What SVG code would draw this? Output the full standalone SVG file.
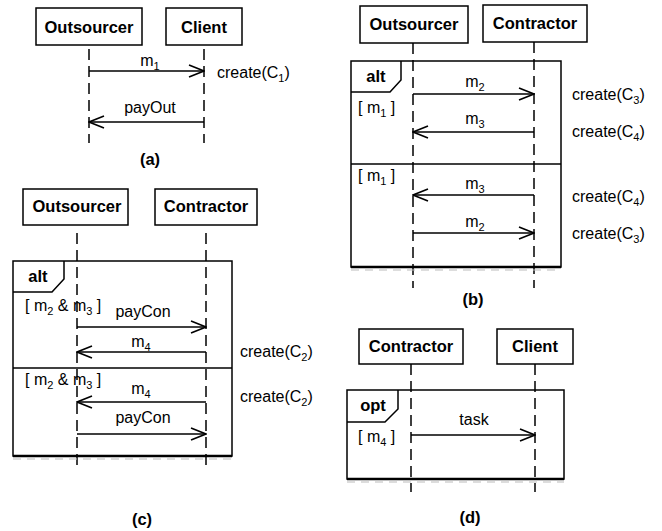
<svg xmlns="http://www.w3.org/2000/svg" width="662" height="531" viewBox="0 0 662 531">
<style>
.box{fill:#fff;stroke:#000;stroke-width:1.5}
.life{stroke:#000;stroke-width:1.5;stroke-dasharray:11 6;fill:none}
.frame{fill:none;stroke:#000;stroke-width:1.5}
.fbot{stroke:#000;stroke-width:2.5}
.fgh{stroke:#bbb;stroke-width:1;stroke-dasharray:8 6}
.msg{stroke:#000;stroke-width:1.5;fill:none;marker-end:url(#open)}
text{font-family:"Liberation Sans",Arial,sans-serif;font-size:16px;fill:#000}
.b{font-weight:bold;font-size:16.5px}
.m{text-anchor:middle}
.s{font-size:11px}
</style>
<defs>
<marker id="open" viewBox="0 0 17 15" refX="16" refY="7.5" markerWidth="17" markerHeight="15" markerUnits="userSpaceOnUse" orient="auto"><path d="M1,1.5 L16,7.5 L1,13.5" fill="none" stroke="#000" stroke-width="1.6"/></marker>
</defs>

<!-- Panel (a) -->
<g id="a-outsourcer"><rect class="box" x="36" y="8" width="106" height="37"/><text class="b m" x="89" y="33">Outsourcer</text></g>
<g id="a-client"><rect class="box" x="166" y="8" width="76" height="37"/><text class="b m" x="204" y="33">Client</text></g>
<g id="a-lifelines"><line class="life" x1="89" y1="49" x2="89" y2="143"/><line class="life" x1="204" y1="49" x2="204" y2="143"/></g>
<g id="a-notes"><text x="217" y="78">create(C<tspan class="s" dy="4">1</tspan><tspan dy="-4">)</tspan></text><text class="b m" x="150" y="165">(a)</text></g>

<!-- Panel (b) -->
<g id="b-outsourcer"><rect class="box" x="360" y="6" width="108" height="37"/><text class="b m" x="414" y="30">Outsourcer</text></g>
<g id="b-contractor"><rect class="box" x="483" y="5" width="104" height="37"/><text class="b m" x="535" y="29">Contractor</text></g>
<g id="b-lifelines"><line class="life" x1="413" y1="43" x2="413" y2="288"/><line class="life" x1="534" y1="42" x2="534" y2="288"/></g>
<g id="b-alt">
<rect class="frame" x="351" y="61" width="210" height="206"/>
<path class="frame" d="M351,92 H390 L401,80 V61"/>
<line class="frame" x1="351" y1="164" x2="561" y2="164"/>
<line class="fbot" x1="351" y1="267" x2="561" y2="267"/>
<line class="fgh" x1="351" y1="270" x2="561" y2="270"/>
<text class="b m" x="376" y="82">alt</text>
<text x="358" y="113">[ m<tspan class="s" dy="4">1</tspan><tspan dy="-4"> ]</tspan></text>
<text x="358" y="181">[ m<tspan class="s" dy="4">1</tspan><tspan dy="-4"> ]</tspan></text>
</g>
<g id="b-notes">
<text x="572" y="100">create(C<tspan class="s" dy="4">3</tspan><tspan dy="-4">)</tspan></text>
<text x="572" y="137">create(C<tspan class="s" dy="4">4</tspan><tspan dy="-4">)</tspan></text>
<text x="572" y="202">create(C<tspan class="s" dy="4">4</tspan><tspan dy="-4">)</tspan></text>
<text x="572" y="239">create(C<tspan class="s" dy="4">3</tspan><tspan dy="-4">)</tspan></text>
<text class="b m" x="473" y="305">(b)</text>
</g>

<!-- Panel (c) -->
<g id="c-outsourcer"><rect class="box" x="23" y="189" width="105" height="36"/><text class="b m" x="77" y="212">Outsourcer</text></g>
<g id="c-contractor"><rect class="box" x="155" y="189" width="102" height="36"/><text class="b m" x="206" y="212">Contractor</text></g>
<g id="c-lifelines"><line class="life" x1="77" y1="233" x2="77" y2="469"/><line class="life" x1="206" y1="233" x2="206" y2="469"/></g>
<g id="c-alt">
<rect class="frame" x="13" y="261" width="219" height="195"/>
<path class="frame" d="M13,292 H52 L64,279 V261"/>
<line class="frame" x1="13" y1="368" x2="232" y2="368"/>
<line class="fbot" x1="13" y1="456" x2="232" y2="456"/>
<line class="fgh" x1="13" y1="459" x2="232" y2="459"/>
<text class="b m" x="38" y="282">alt</text>
<text x="25" y="311">[ m<tspan class="s" dy="4">2</tspan><tspan dy="-4"> &amp; m</tspan><tspan class="s" dy="4">3</tspan><tspan dy="-4"> ]</tspan></text>
<text x="25" y="385">[ m<tspan class="s" dy="4">2</tspan><tspan dy="-4"> &amp; m</tspan><tspan class="s" dy="4">3</tspan><tspan dy="-4"> ]</tspan></text>
</g>
<g id="c-notes">
<text x="240" y="357">create(C<tspan class="s" dy="4">2</tspan><tspan dy="-4">)</tspan></text>
<text x="240" y="402">create(C<tspan class="s" dy="4">2</tspan><tspan dy="-4">)</tspan></text>
<text class="b m" x="142" y="525">(c)</text>
</g>

<!-- Panel (d) -->
<g id="d-contractor"><rect class="box" x="359" y="329" width="104" height="35"/><text class="b m" x="411" y="352">Contractor</text></g>
<g id="d-client"><rect class="box" x="497" y="329" width="76" height="35"/><text class="b m" x="535" y="352">Client</text></g>
<g id="d-lifelines"><line class="life" x1="411" y1="364" x2="411" y2="492"/><line class="life" x1="535" y1="364" x2="535" y2="492"/></g>
<g id="d-opt">
<rect class="frame" x="347" y="390" width="217" height="89"/>
<path class="frame" d="M347,422 H385 L398,409 V390"/>
<line class="fbot" x1="347" y1="479" x2="564" y2="479"/>
<line class="fgh" x1="347" y1="482" x2="564" y2="482"/>
<text class="b m" x="373" y="411">opt</text>
<text x="358" y="442">[ m<tspan class="s" dy="4">4</tspan><tspan dy="-4"> ]</tspan></text>
<text class="b m" x="470" y="523">(d)</text>
</g>

<!-- Connectors -->
<g id="connectors">
<line class="msg" x1="89" y1="71" x2="204" y2="71"/>
<text class="m" x="150" y="66">m<tspan class="s" dy="4">1</tspan></text>
<line class="msg" x1="204" y1="122" x2="89" y2="122"/>
<text class="m" x="150" y="113">payOut</text>

<line class="msg" x1="413" y1="94" x2="534" y2="94"/>
<text class="m" x="475" y="87">m<tspan class="s" dy="4">2</tspan></text>
<line class="msg" x1="534" y1="132" x2="413" y2="132"/>
<text class="m" x="475" y="124">m<tspan class="s" dy="4">3</tspan></text>
<line class="msg" x1="534" y1="195" x2="413" y2="195"/>
<text class="m" x="475" y="189">m<tspan class="s" dy="4">3</tspan></text>
<line class="msg" x1="413" y1="233" x2="534" y2="233"/>
<text class="m" x="475" y="227">m<tspan class="s" dy="4">2</tspan></text>

<line class="msg" x1="77" y1="327" x2="206" y2="327"/>
<text class="m" x="143" y="317">payCon</text>
<line class="msg" x1="206" y1="352" x2="77" y2="352"/>
<text class="m" x="141" y="347">m<tspan class="s" dy="4">4</tspan></text>
<line class="msg" x1="206" y1="402" x2="77" y2="402"/>
<text class="m" x="141" y="394">m<tspan class="s" dy="4">4</tspan></text>
<line class="msg" x1="77" y1="434" x2="206" y2="434"/>
<text class="m" x="143" y="423">payCon</text>

<line class="msg" x1="411" y1="435" x2="535" y2="435"/>
<text class="m" x="474" y="425">task</text>
</g>
</svg>
